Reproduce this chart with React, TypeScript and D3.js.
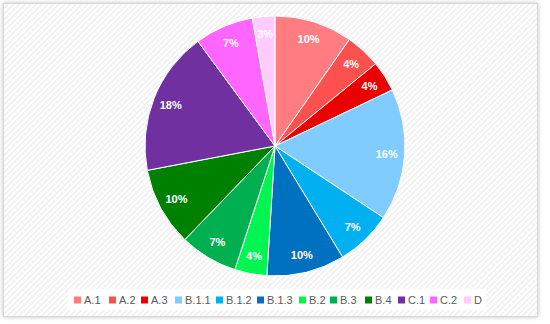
import React, { useEffect, useRef } from 'react';
import * as d3 from 'd3';

const categories = ['A.1', 'A.2', 'A.3', 'B.1.1', 'B.1.2', 'B.1.3', 'B.2', 'B.3', 'B.4', 'C.1', 'C.2', 'D'];
const shares = [9.7, 4.4, 3.8, 16.4, 7.0, 9.7, 4.0, 7.2, 9.8, 17.9, 7.3, 2.8];
const colors = ['#FF7C80', '#FF5050', '#EA0000', '#80CBFF', '#00B0F0', '#0070C0', '#00F550', '#00B050', '#008000', '#7030A0', '#FF66FF', '#FFCCFF'];

const width = 550;
const height = 324;

export default function App() {
  const ref = useRef<SVGSVGElement | null>(null);

  useEffect(() => {
    const svg = d3.select(ref.current);
    svg.selectAll('*').remove();

    const defs = svg.append('defs');
    const pattern = defs
      .append('pattern')
      .attr('id', 'stripes')
      .attr('width', 4)
      .attr('height', 4)
      .attr('patternUnits', 'userSpaceOnUse')
      .attr('patternTransform', 'rotate(45)');
    pattern.append('rect').attr('width', 4).attr('height', 4).attr('fill', '#ffffff');
    pattern.append('rect').attr('width', 1.5).attr('height', 4).attr('fill', '#eeeeee');

    const shadow = defs.append('filter').attr('id', 'shadow').attr('x', '-5%').attr('y', '-5%').attr('width', '110%').attr('height', '110%');
    shadow.append('feDropShadow').attr('dx', 0).attr('dy', 0).attr('stdDeviation', 2).attr('flood-color', '#000').attr('flood-opacity', 0.25);

    svg.append('rect').attr('width', width).attr('height', height).attr('fill', '#ffffff');
    svg
      .append('rect')
      .attr('x', 3.5)
      .attr('y', 3.5)
      .attr('width', 534)
      .attr('height', 313)
      .attr('fill', 'url(#stripes)')
      .attr('stroke', '#d9d9d9')
      .attr('filter', 'url(#shadow)');

    const cx = 275;
    const cy = 146;
    const radius = 130;

    const pie = d3.pie<number>().value(d => d).sort(null);
    const arc = d3.arc<d3.PieArcDatum<number>>().innerRadius(0).outerRadius(radius);
    const labelArc = d3.arc<d3.PieArcDatum<number>>().innerRadius(112).outerRadius(112);
    const total = d3.sum(shares);
    const fmt = d3.format('.0%');

    const g = svg.append('g').attr('transform', `translate(${cx},${cy})`);
    const arcs = pie(shares);

    g.selectAll('path')
      .data(arcs)
      .enter()
      .append('path')
      .attr('d', arc)
      .attr('fill', (d, i) => colors[i])
      .attr('stroke', '#ffffff')
      .attr('stroke-width', 1);

    g.selectAll('text')
      .data(arcs)
      .enter()
      .append('text')
      .attr('transform', d => `translate(${labelArc.centroid(d)})`)
      .attr('dy', '0.35em')
      .attr('text-anchor', 'middle')
      .attr('fill', '#ffffff')
      .style('font-family', 'Liberation Sans, Arial, sans-serif')
      .style('font-weight', 'bold')
      .style('font-size', '11px')
      .text(d => fmt(d.data / total));

    // legend
    svg.append('rect').attr('x', 68).attr('y', 289).attr('width', 418).attr('height', 21).attr('fill', '#ffffff');
    const legendX = [74, 109, 141, 175, 216, 257, 299, 330, 365, 398, 430, 464];
    const legend = svg
      .selectAll('.legend')
      .data(categories)
      .enter()
      .append('g')
      .attr('class', 'legend')
      .attr('transform', (d, i) => `translate(${legendX[i]},300)`);

    legend
      .append('rect')
      .attr('x', 0)
      .attr('y', -3.5)
      .attr('width', 7)
      .attr('height', 7)
      .attr('fill', (d, i) => colors[i]);

    legend
      .append('text')
      .attr('x', 10)
      .attr('dy', '0.35em')
      .attr('fill', '#595959')
      .style('font-family', 'Liberation Sans, Arial, sans-serif')
      .style('font-size', '11px')
      .text(d => d);
  }, []);

  return <svg ref={ref} width={width} height={height} style={{ position: 'absolute', left: 0, top: 0 }} />;
}
